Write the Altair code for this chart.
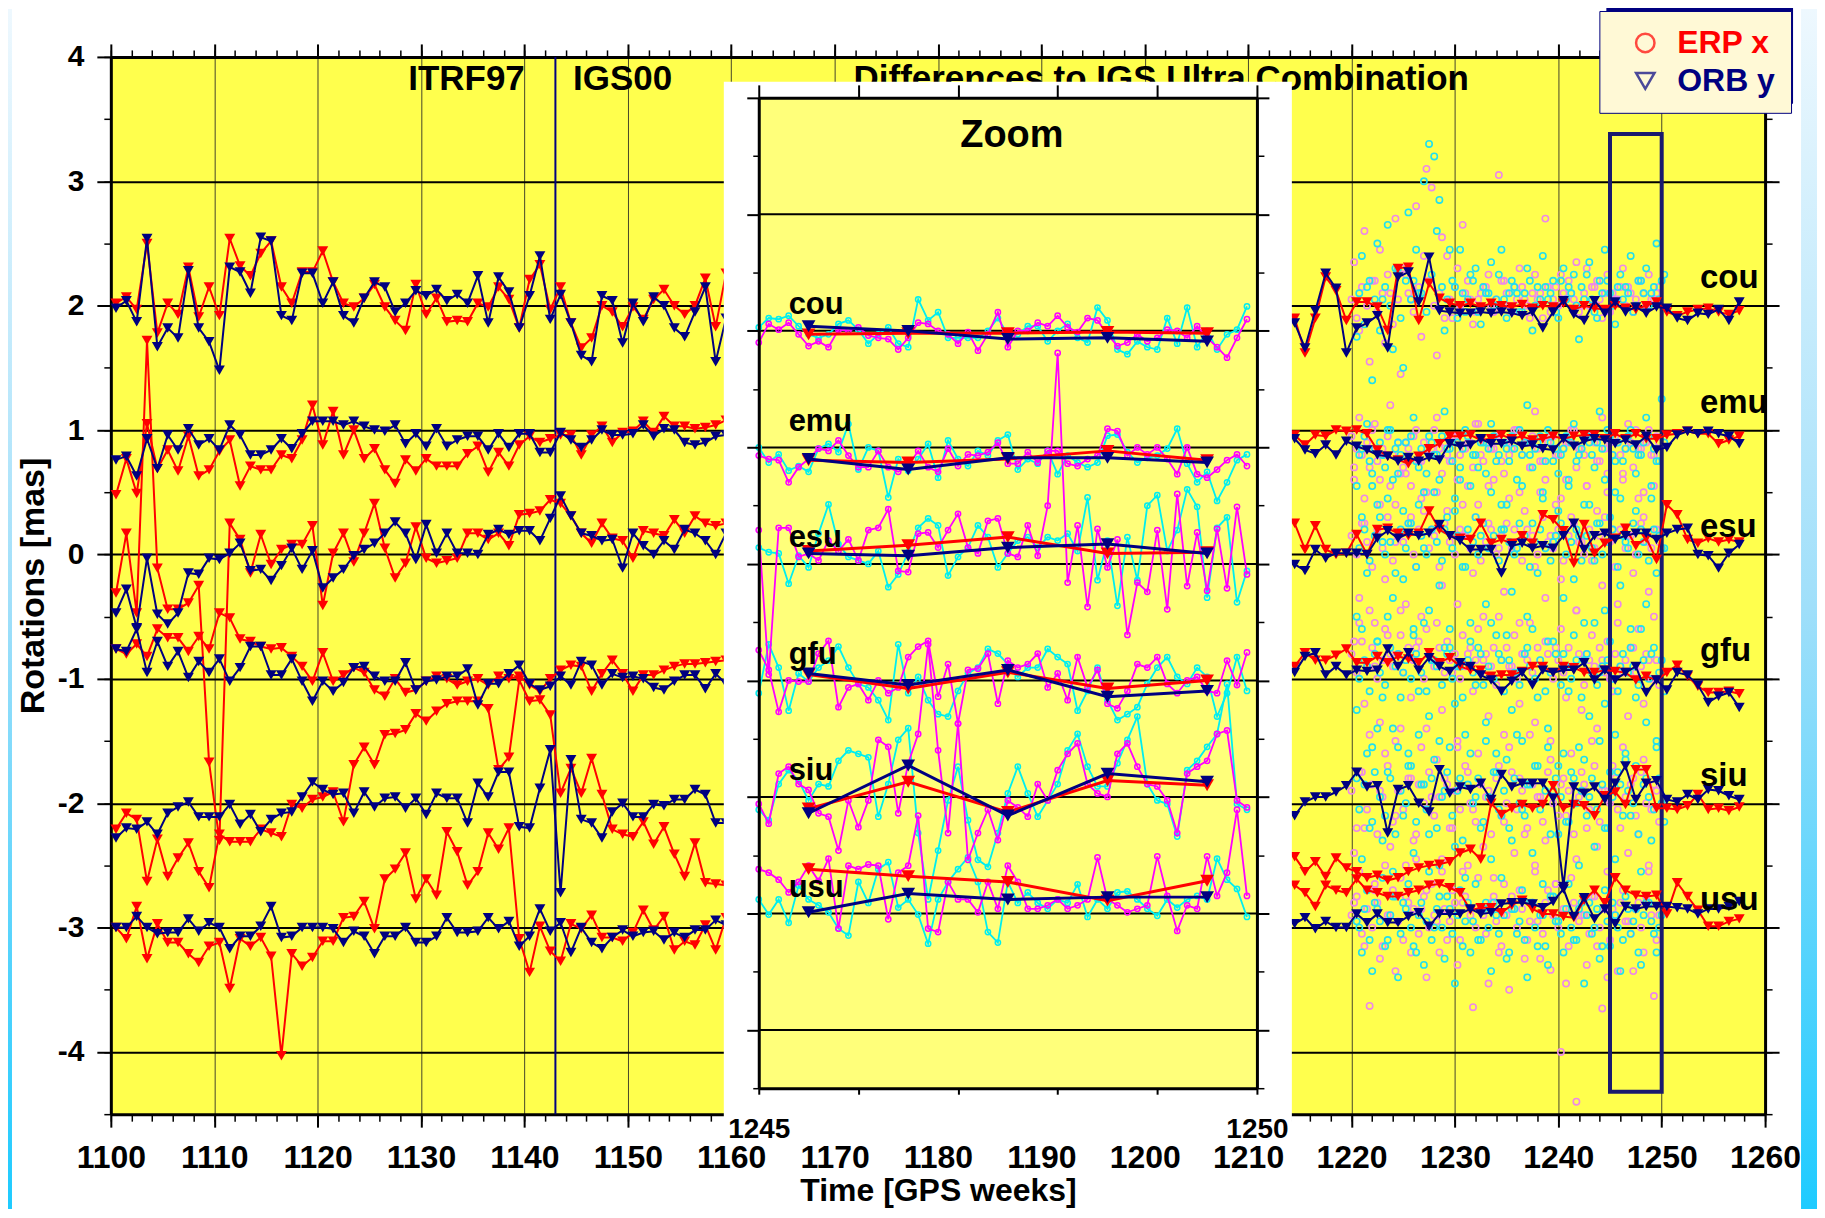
import altair as alt
import pandas as pd

FONT = "Liberation Sans, Arial, Helvetica, sans-serif"
RED = "#ff0000"
NAVY = "#000080"
PINK = "#ee8ae6"
CYAN = "#22e0ee"
MAGENTA = "#ff00ff"
CYAN_IN = "#00eef0"
YELLOW = "#ffff4d"
YELLOW_IN = "#ffff7a"

CENTERS = ["cou", "emu", "esu", "gfu", "siu", "usu"]
BASELINES = [2, 1, 0, -1, -2, -3]

# weekly solutions (mid-week epochs)
WEEKS_LEFT = [1100.5 + i for i in range(60)]
WEEKS_RIGHT = [1214.5 + i for i in range(44)]

# all offsets in 1/100 mas relative to the centre's baseline
RED_LEFT = {
    "cou": [2, 7, -3, 50, -22, 2, -7, 31, -9, 15, -8, 54, 32, 24, 42, 52, 15, 2, 27, 27,
            44, 19, 2, -1, 6, 17, -1, -12, -20, 17, -7, 6, -13, -12, -13, 2, -1, 15, 5, -18,
            21, 33, -3, 15, -14, -34, -26, 0, -5, -17, -1, -11, 5, 13, 0, -7, 0, 22, -17, 26],
    "emu": [-52, -23, -51, 5, -31, -16, -33, -5, -37, -32, -17, -8, -45, -29, -32, -32, -20, -23, -8, 20,
            -12, 15, -20, 0, -23, -15, -32, -43, -24, -33, -23, -29, -29, -29, -19, -13, -34, -18, -29, -12,
            -5, -10, -7, -4, -4, -20, -4, 3, -10, -2, -1, 7, -2, 11, 3, 3, 1, 2, 4, 8],
    "esu": [-31, 17, -47, 172, -11, -44, -44, -39, -25, -167, -230, 25, 12, -15, 16, -8, 4, 8, 8, 23,
            -41, 1, 17, -6, 17, 41, 5, -19, -7, 22, -3, -7, -5, -3, 17, 17, 12, 17, 7, 32,
            33, 35, 44, 41, 31, 17, 9, 25, 13, 11, -3, 19, 17, 15, 28, 17, 31, 25, 23, 25],
    "gfu": [24, 20, 28, 18, 40, 33, 33, 22, 34, 24, 53, 49, 32, 30, 26, 24, 25, 18, 10, -2,
            21, -2, 3, 9, 5, -9, -14, 0, -11, -9, -2, 2, 0, -5, -2, 0, -5, 2, 0, 2,
            -5, -10, 0, 7, 11, 10, -10, 4, 15, 4, -10, 3, 3, 7, 10, 12, 12, 13, 14, 15],
    "siu": [-21, -8, -13, -63, -29, -59, -44, -32, -55, -68, -25, -31, -31, -31, -21, -24, -27, -1, -4, 3,
            5, 9, -15, 31, 45, 31, 55, 56, 59, 72, 66, 74, 80, 82, 82, 82, 76, 27, 37, 99,
            82, 83, 71, 8, 28, 8, 36, 7, -21, -25, -27, -15, -33, -19, -41, -59, -32, -64, -65, -66],
    "usu": [0, -9, 17, -25, 3, -12, -12, -21, -28, -15, -12, -49, -9, -15, -8, -23, -103, -21, -31, -24,
            -11, -11, 8, 9, 21, -1, 39, 47, 60, 23, 39, 26, 77, 61, 34, 45, 76, 63, 80, -9,
            -36, 1, -19, -27, 3, -1, 10, -8, -8, -11, -4, 14, -2, 9, -18, -11, -14, 2, -18, 8],
}
NAVY_LEFT = {
    "cou": [-2, 4, -13, 54, -33, -18, -26, 28, -18, -29, -52, 31, 27, 10, 55, 52, -8, -12, 26, 26,
            2, 19, -8, -14, 6, 19, 15, -5, 2, 12, 8, 13, 4, 9, 2, 24, -14, 23, 11, -18,
            8, 40, -11, 9, -14, -40, -45, 8, 4, -30, 2, -13, 7, 0, -18, -25, -5, 15, -45, -10],
    "emu": [-24, -21, -37, -7, -31, -4, -16, 1, -12, -7, -16, 4, -4, -20, -20, -16, -7, -15, -3, 7,
            7, 7, 4, 7, 3, 0, -1, 4, -11, -3, -13, 1, -13, -8, -5, -5, -16, -3, -14, -3,
            -3, -18, -18, -2, -8, -14, -8, 0, -4, -4, -3, 4, -5, 1, 0, -10, -12, -10, -5, -4],
    "esu": [-47, -28, -59, -3, -48, -56, -47, -15, -16, -3, -4, 1, 9, -13, -12, -21, -9, 5, -12, 3,
            -27, -19, -12, -1, 4, 9, 17, 26, 17, -4, 24, 1, 17, 1, 1, 0, 16, 20, 16, 19,
            19, 11, 29, 47, 31, 17, 15, 11, 12, -11, 17, 7, 0, 11, 4, 20, 17, 11, 0, 17],
    "gfu": [24, 22, 40, 5, 30, 10, 22, 1, 14, 5, 16, -2, 9, 26, 26, 3, 3, 16, -2, -18,
            -2, -10, -3, 9, 10, 2, -2, -2, 13, -9, -2, -1, 2, 2, 8, -21, -4, -4, 4, 11,
            -4, -9, -6, 2, -5, 14, 11, -5, 4, 1, 2, 0, -7, -9, -2, 3, 3, -8, 4, -4],
    "siu": [-28, -20, -21, -15, -25, -8, -3, 1, -11, -11, -11, -1, -17, -9, -23, -13, -8, -7, 5, 17,
            11, 7, 8, -8, 9, -3, 4, 5, -4, 4, -9, 8, 4, 4, -16, 16, 5, 25, 25, -19,
            -20, 12, 43, -72, 35, -13, -16, -28, -7, 0, -11, -11, -1, -2, 3, 3, 11, 7, -16, -16],
    "usu": [0, 0, 9, 0, -5, -4, -4, 7, -3, 4, 0, -17, -7, -7, 1, 17, -8, -7, 0, 0,
            0, -1, -12, -3, -7, -21, -7, -7, 0, -12, -12, -7, 8, -4, -4, -3, 8, -1, 5, -15,
            -7, 15, -3, 4, -20, 0, -12, -17, -8, -2, -7, -4, -3, -10, -4, -8, -2, -2, 6, 2],
}
RED_RIGHT = {
    "cou": [-10, -38, -10, 23, 12, -12, 3, 3, -1, -20, 30, 31, -12, 18, 6, 2, 0, 2, -1, 2,
            0, -1, 1, -2, 0, -1, 2, -3, 0, -2, -3, 0, -2, -3, 0, 3, -5, -8, -5, -3, -2, -5, -7, -4],
    "emu": [-4, -12, -4, -5, 0, -1, 0, -3, -16, -21, -24, -27, -21, -15, -11, -5, -5, -4, -8, -7,
            -4, -7, -5, -8, -7, -5, -7, -5, -4, -4, -7, -3, -7, -3, -7, -7, -4, -3, -1, -3, -3, -11, -8, -5],
    "esu": [25, 4, 23, 4, 0, 1, 16, 0, 20, 21, 17, 15, 17, 35, 20, 15, 13, 12, 25, 9,
            12, 9, 15, 9, 32, 28, 19, -7, 24, 1, 9, 13, 21, 7, 13, -4, 40, 32, 12, 9, 13, 10, 12, 10],
    "gfu": [10, 21, 15, 15, 19, 24, 13, 13, 18, 13, 18, 16, 13, 21, 13, 17, 10, 7, 7, 2,
            3, 3, 6, 10, 10, 5, 10, 9, 5, 5, 7, 6, 5, -1, 2, -1, 5, 11, 2, -6, -11, -11, -10, -12],
    "siu": [-43, -55, -47, -59, -44, -52, -55, -60, -58, -62, -60, -55, -52, -50, -49, -47, -40, -37, -45, 0,
            -9, -4, -1, -4, -1, 14, -4, -1, -2, -10, 6, 9, -1, 27, 27, -4, -4, -5, -2, 7, -5, -4, -6, -3],
    "usu": [34, 28, 17, 34, 30, 28, 39, 30, 28, 25, 25, 28, 30, 34, 35, 32, 28, 14, 16, 16,
            12, 18, 22, 15, 11, 11, 9, 8, 22, 30, 20, 40, 30, 26, 25, 26, 11, 36, 25, 14, 1, 1, 5, 7],
}
NAVY_RIGHT = {
    "cou": [-14, -34, -4, 26, 14, -38, -18, -14, -8, -34, 23, 27, 3, 39, -4, -5, -6, -6, -5, -6,
            -5, -6, -8, -5, -18, -5, 4, -7, -12, 4, -6, 3, -5, -1, -6, -1, -2, -10, -12, -6, -7, -3, -12, 3],
    "emu": [-7, -16, -19, -12, -20, -9, -13, -16, -20, -21, -25, -22, -25, -22, -24, -11, -13, -12, -7, -11,
            -11, -9, -13, -12, -15, -16, -7, -13, -9, -7, -8, -11, -8, -12, -5, -16, -14, -4, -1, -3, -1, -3, -5, -11],
    "esu": [-8, -13, 4, -3, 1, 1, 1, 0, 13, 19, 13, 17, 15, 17, 24, 15, 11, 4, 4, 4,
            -15, 7, 9, 5, 7, 5, 15, 25, 4, 15, 17, 12, 15, 17, 17, 12, 17, 20, 21, 0, -1, -11, 1, 8],
    "gfu": [5, 18, 21, 3, 10, 3, 7, 6, 7, 24, 10, 21, 7, 17, 10, 6, 13, 10, 3, -1,
            -10, -2, 5, -5, 7, 5, 7, 7, 13, -1, 7, -1, 5, 10, -11, -1, -9, 5, 3, -5, -19, -14, -11, -23],
    "siu": [-10, 1, 5, 5, 9, 14, 25, 13, 14, -24, 11, 14, 0, -7, 27, 8, 13, 11, 16, 3,
            23, 13, 16, 16, 16, 4, -67, 13, 8, 13, 3, 16, 30, 3, 16, 18, 3, 1, 7, 3, 11, 10, 6, 3],
    "usu": [3, 8, -1, 5, 0, 0, 11, 4, 11, 4, 4, 9, 12, 1, 11, 11, 11, 15, 11, 12,
            19, 20, 20, 19, 16, 21, 31, 9, 24, 7, 15, 3, 17, 15, 17, 17, 17, 16, 15, 11, 15, 15, 17, 21],
}

# sub-weekly ERP solutions, weeks 1220-1250 (two sampling offsets per colour)
SCATTER_X_PINK = [1220.25 + 0.5 * k for k in range(60)]
SCATTER_X_CYAN = [1220.5 + 0.5 * k for k in range(60)]
SCATTER_X_PINK2 = [1220.0 + 0.5 * k for k in range(60)]
SCATTER_X_CYAN2 = [1220.75 + 0.5 * k for k in range(60)]
SCATTER_PINK = {
    "cou": [35, -20, 60, -45, 20, 45, -30, 10, 70, -55, 25, 5, 80, -25, 110, 95, -40, 55, 40, -10,
            30, 65, 20, -15, 5, 15, 25, -5, 105, 20, 0, 15, 30, 5, -10, 25, 10, 70, -5, 15,
            25, 5, 10, 35, 0, 30, 15, 20, -10, 25, 10, 5, 30, 15, -5, 20, 10, 25, 5, 15],
    "emu": [-30, 10, -55, -15, 5, -40, -20, 20, -60, -35, -10, -45, 0, -25, -50, -15, 10, -35, -20, -5,
            -40, -60, -10, -30, 5, -25, -45, -15, -5, -35, -20, 0, -50, -10, -30, 15, -25, -40, -5, -20,
            -55, -10, 0, -30, -15, -45, -5, -25, 10, -35, -20, -10, -40, 5, -30, -15, -50, 0, -20, -10],
    "esu": [60, -35, 25, 70, -55, 40, -20, 55, 10, -45, 65, 30, -10, 45, -60, 20, 50, -25, 35, 75,
            -40, 15, 55, -15, 40, -50, 25, 60, 5, -30, 45, 20, -55, 35, 70, -10, 50, -35, 15, 40,
            -20, 60, 30, -45, 10, 55, -5, 35, -25, 50, 20, -40, 65, 15, -15, 45, 30, -30, 55, 10],
    "gfu": [30, 45, -20, 55, 10, -35, 40, 20, -50, 35, 60, -15, 25, 50, -40, 15, 45, -25, 30, 5,
            -55, 35, 20, -10, 40, 15, -30, 25, 50, -45, 10, 35, -20, 20, 45, -35, 15, 30, -50, 25,
            40, -15, 10, 55, -25, 20, 35, -40, 15, 30, -10, 45, 5, -30, 25, 40, -20, 15, 50, -5],
    "siu": [-40, 25, -20, 55, -65, 10, 40, -35, -10, 60, -50, 20, -25, 45, -70, 5, 35, -45, 15, -20,
            50, -55, 25, -5, 40, -35, 10, -60, 30, -15, 45, -40, 20, -25, 55, -50, 5, -30, 35, -65,
            15, -10, 40, -45, 25, -20, 50, -35, 10, -55, 30, -5, 45, -40, 20, -25, 35, -50, 15, -15],
    "usu": [20, 45, -15, -63, 30, -25, 50, 10, -35, 40, 25, -20, 55, 15, -40, 35, 5, 45, -10, 30,
            -30, 20, 50, -64, 40, 10, -45, 25, -20, 35, -50, 15, 30, -25, 5, 45, -25, 20, -34, 35,
            -100, -45, 40, -140, 10, -30, 25, -15, -65, -40, 15, -35, 30, 5, -35, 20, -20, 45, -55, 10],
}
SCATTER_CYAN = {
    "cou": [-25, 40, 15, -60, 50, 5, 65, -35, 30, -50, 75, 20, 10, 100, 130, 120, 85, -20, 45, 15,
            45, -5, 25, 30, -15, 10, 35, 5, 45, -10, 20, 10, -5, 30, -20, 15, 40, 5, 20, -10,
            30, 15, 25, -27, 5, 35, -5, 20, 45, 10, -15, 25, 15, 40, 0, 20, 30, 10, 50, 20],
    "emu": [-45, -15, 5, -35, -60, -20, 0, -40, -10, -65, -25, 10, -30, -50, -5, -20, -40, 15, -15, -55,
            -30, 0, -45, -20, -10, -35, 5, -25, -60, -15, -5, -40, -20, 20, -30, -10, -50, 0, -25, -35,
            -15, -45, 5, -20, -60, -10, -30, 15, -40, -5, -25, -55, -15, 0, -35, -20, 10, -45, -25, 25],
    "esu": [-50, 30, -15, 55, -70, 10, 45, -35, 65, -20, 25, -60, 40, 5, -45, 50, -25, 20, -75, 35,
            60, -10, -55, 30, 15, -40, 50, -65, 20, 40, -30, 5, 55, -50, 25, -15, 45, -70, 10, 35,
            -35, 60, -20, 15, -55, 40, -5, 25, -45, 30, 50, -25, 10, -60, 35, 20, -40, 45, -15, 5],
    "gfu": [-25, 40, 10, -55, 30, -15, 50, -40, 20, 5, -60, 35, -10, 45, -30, 15, -50, 25, 40, -20,
            10, -45, 30, -5, 20, -35, 45, -60, 15, 35, -25, 5, -50, 25, 40, -15, 10, -40, 30, -70,
            20, -10, 35, -55, 15, -30, 45, 5, -20, 30, -45, 10, -65, 25, -15, 40, -35, 20, -50, 15],
    "siu": [20, -45, 40, -15, 60, -30, 25, -55, 45, -10, 30, -40, 55, 15, -25, 35, -50, 10, 45, -35,
            20, -60, 40, 5, -20, 50, -45, 25, -10, 35, -30, 55, -5, 15, -40, 30, -65, 45, 10, -25,
            40, -15, 20, -50, 35, 5, -35, 50, -20, 25, -45, 15, 40, -10, 30, -55, 20, -30, 45, 0],
    "usu": [5, -20, 30, -35, 15, 40, -10, 25, -40, 20, 35, -15, 10, -30, 45, 0, 25, -25, 15, -45,
            30, 5, -20, 35, -10, 20, -35, 10, 40, -25, 15, -5, 30, -40, 20, -15, 10, -30, 25, 5,
            -20, 35, -10, 15, -45, 20, 0, -25, 30, -15, 10, -35, 25, -5, 15, -30, 20, 5, -20, 10],
}
SCATTER_PINK2 = {
    "cou": [5, -10, 15, 0, 20, -5, 10, 25, -15, 5, 30, 10, -5, 15, 40, 20, 0, 10, -10, 5,
            15, 0, 10, 5, -5, 10, 15, 0, 5, 20, 10, -5, 5, 15, 0, 10, 5, -10, 15, 5,
            0, 10, 20, 5, -5, 10, 0, 15, 5, 10, -5, 5, 15, 0, 10, 5, 20, 0, 5, 10],
    "emu": [-5, -15, -20, -10, 0, -25, -15, -5, -20, -10, -30, -15, -5, -25, -10, -20, 0, -15, -10, -25,
            -5, -20, -15, -10, 5, -20, -10, -15, -5, -25, -10, -15, 0, -20, -10, -5, -15, -25, -10, -5,
            -20, -15, -10, 0, -15, -20, -5, -10, -25, -15, -10, -5, -20, -15, -10, 0, -15, -10, -20, -5],
    "esu": [15, 0, 25, 10, -10, 20, 5, 30, -5, 15, 10, 25, 0, 20, 35, 5, 15, -10, 25, 10,
            0, 20, 15, 5, 30, -5, 10, 20, 0, 15, 25, 5, 10, -5, 20, 15, 0, 30, 10, 5,
            20, -5, 15, 25, 10, 0, 20, 5, 15, 30, 10, -10, 20, 5, 15, 0, 25, 10, 5, 20],
    "gfu": [20, 5, 30, 10, 25, 0, 15, 35, 10, 20, 5, 25, 15, 30, 0, 20, 10, 25, 5, 15,
            20, 0, 10, 25, 15, 5, 20, 10, -5, 15, 25, 10, 0, 20, 15, 5, 25, 10, 20, 0,
            15, 5, 25, 10, 20, -5, 15, 10, 25, 5, 0, 20, 10, 15, 25, 5, 10, 20, 0, 15],
    "siu": [10, -20, 25, -5, 15, -25, 5, 30, -15, 10, -5, 20, -30, 15, 0, 25, -10, 5, 20, -20,
            10, -5, 30, 0, -15, 15, 5, -25, 20, -10, 0, 25, -5, 10, -20, 15, 5, -15, 25, 0,
            -10, 20, 10, -25, 5, 15, -5, 30, -15, 10, 0, 20, -20, 5, 15, -10, 25, 0, -5, 10],
    "usu": [10, 25, -5, 15, 0, 20, -15, 10, 30, 5, -10, 20, 15, -5, 25, 0, 10, -20, 15, 5,
            20, -10, 25, 10, 0, 15, -5, 20, 5, -15, 10, 25, 0, 15, -10, 20, 5, -5, 30, 10,
            0, 15, -15, 20, 5, 10, -5, 25, 0, 15, -10, 10, 20, 5, -5, 15, 0, 25, 10, -10],
}
SCATTER_CYAN2 = {
    "cou": [10, -15, 20, 5, -20, 15, 0, 30, -10, 20, 5, 45, 10, -5, 25, 60, 15, 5, 20, -10,
            10, 5, 20, -5, 15, 10, 0, 25, 5, 10, 15, -5, 10, 20, 0, 5, 15, 10, -5, 20,
            5, 10, 0, 15, 25, 5, -10, 10, 20, 0, 15, 5, 10, -5, 20, 10, 0, 15, 5, 25],
    "emu": [-20, -5, -25, -15, -10, -30, 0, -15, -20, -10, -5, -25, -15, -35, -10, -20, -5, -15, -25, -10,
            -15, -5, -20, -30, -10, -15, -5, -20, -10, -25, -15, 0, -10, -20, -15, -5, -25, -10, -15, -20,
            -5, -10, -25, -15, -5, -20, -10, -15, 0, -20, -10, -25, -5, -15, -20, -10, -5, -15, -25, -10],
    "esu": [5, 20, -5, 15, 30, 0, 10, -15, 20, 5, 25, -10, 15, 0, 20, 10, -5, 30, 5, 15,
            -10, 20, 10, 0, 25, 5, 15, -5, 20, 10, 0, 25, 15, -10, 10, 20, 5, -5, 15, 25,
            0, 10, 20, -5, 15, 5, 25, 0, 10, 20, -10, 15, 5, 25, 0, 10, -5, 20, 15, 5],
    "gfu": [0, 15, -10, 20, 5, -5, 25, 10, -15, 15, 0, 20, 5, -10, 15, 10, -5, 20, 0, 10,
            -15, 15, 5, 25, -5, 10, 0, 20, -10, 15, 5, -5, 20, 10, 0, 15, -10, 5, 20, -5,
            10, 0, 15, -15, 20, 5, -5, 10, 15, 0, -10, 20, 5, 10, -5, 15, 0, 25, 5, -10],
    "siu": [-5, 15, -20, 25, 5, -10, 20, -25, 10, 0, 30, -15, 15, -5, 20, -20, 5, 25, -10, 10,
            -30, 15, 0, 20, -15, 5, 25, -5, 10, -20, 20, 0, -10, 15, 30, -5, 10, -25, 20, 5,
            -15, 25, 0, 10, -10, 20, -5, 15, -20, 5, 25, -10, 10, 0, -25, 15, 5, -5, 20, -15],
    "usu": [0, 15, -10, 20, 5, -15, 10, 25, -5, 15, 0, -20, 20, 5, -10, 15, 0, 25, -5, 10,
            -15, 20, 5, -10, 15, 0, 20, -5, 10, -20, 15, 5, -10, 20, 0, 10, -15, 25, 5, -5,
            15, 0, -10, 20, 10, -5, 15, -15, 5, 20, 0, -10, 15, 5, -20, 10, 20, -5, 0, 15],
}

# zoom inset: weeks 1245-1250
INSET_X = [round(1245.0 + 0.1 * k, 2) for k in range(50)]
INSET_CYAN = {
    "cou": [3, 11, 10, 13, 4, -3, -6, -3, 6, 9, 1, -11, -3, 3, -11, -14, 27, 9, 16, -6,
            -6, -6, -6, 0, 11, -3, -3, 4, 4, -9, 0, 6, -6, -10, 20, 9, -16, -20, -9, -14,
            -16, 11, -11, 20, -14, 0, -16, -3, 1, 21],
    "emu": [0, -13, -6, -20, -16, -21, -1, 3, -4, 20, -19, 0, -3, -43, -10, -20, -10, 3, -26, 6,
            -10, -16, -3, -7, 6, 11, -19, -10, -14, -3, -23, -7, -13, -17, -13, 10, 11, -4, -13, -9,
            -7, -1, 16, -14, -30, -21, -46, -30, -11, -6],
    "esu": [14, 10, 9, -17, 7, -3, 26, 51, 17, 6, 3, 0, 11, -20, -9, 10, 31, 39, 33, -10,
            6, 14, 33, 23, -3, 9, 20, 23, 14, 23, 20, 26, 11, 57, -14, 20, -36, 23, -14, 50,
            59, 11, 29, 64, 49, -29, 31, 40, -33, -6],
    "gfu": [-11, 31, 11, -26, 6, -1, 11, 17, 29, 11, -3, -6, -17, -34, 31, -11, 3, -17, -29, -31,
            -9, 6, 11, 27, 23, 14, 3, 11, 11, 27, 20, 14, -26, -9, 11, -17, -34, -29, -23, -3,
            11, 20, 3, -3, 11, 3, -31, -11, 20, -9],
    "siu": [-11, -20, 11, 23, 14, -3, 11, 9, 31, 40, 37, 34, -17, 11, 49, 59, -31, -88, -46, -3,
            26, -20, -54, -60, -31, 3, 26, 3, -17, -3, 11, 40, 54, 26, 9, 9, 29, 49, 69, 11,
            -3, -6, -34, 23, 31, 43, 54, 97, -6, -11],
    "usu": [12, -1, 12, -8, 24, 12, 7, 1, -13, -19, 27, 9, 38, 44, 5, 12, -1, -26, 12, 27,
            38, 48, 27, -16, -25, 27, 9, 18, 9, 4, 12, 9, 25, -3, 12, 4, 18, 19, 12, 4,
            -2, 12, 5, 12, 15, 12, 47, 29, 21, -3],
}
INSET_MAGENTA = {
    "cou": [-10, 6, 1, 7, -3, -13, -9, -14, 1, 0, 3, -4, -6, -7, -16, -6, 7, 6, 0, -3,
            -11, -1, -17, -3, 16, -14, 0, 0, 7, 4, 13, 3, -1, 11, 9, -3, -13, -10, -3, -9,
            -6, 1, 0, -6, 4, -6, -14, -23, -6, 10],
    "emu": [-7, -10, -11, -30, -17, -10, -1, -3, 6, -7, -17, -17, -3, -17, -21, -16, -3, -17, -21, -1,
            -16, -6, -7, -4, 4, -14, -14, -4, -13, -3, -3, -14, -16, -10, -7, 16, 14, -7, 0, -6,
            0, -10, -23, 0, -23, -26, -19, -11, -6, -16],
    "esu": [29, -95, 31, 31, 6, 9, 3, 20, 11, 21, 3, 29, 31, 47, -6, -7, 26, 27, 14, 29,
            43, 14, 9, 37, 39, 9, 6, 33, 7, 50, 181, -16, 33, -37, 30, -3, 21, -61, -16, -24,
            29, -39, 60, -19, 27, -23, 30, -21, 49, -9],
    "gfu": [26, 9, -27, 0, -1, -1, 23, 34, -23, -6, -3, -17, 0, -11, -6, 20, 29, 34, -14, 14,
            -37, 9, 10, 23, -20, 17, 11, 14, 23, -6, 6, -17, 20, -6, 9, -20, -24, -9, 14, 11,
            20, -3, -11, 0, 3, -9, -11, 17, -4, 24],
    "siu": [-6, -23, 20, 26, 11, 6, -14, -17, -46, -3, -26, -3, 49, 43, -14, 29, 54, 131, 40, -31,
            63, -54, -31, -11, -37, -3, -9, -17, 11, -3, 23, 37, 46, 11, 3, 0, 37, 46, 26, 11,
            9, -3, -31, 20, 26, 31, 54, 57, -3, -9],
    "usu": [38, 35, 29, 18, 27, 41, 28, 47, -13, 41, 38, 42, 41, -5, 35, 41, 84, -13, -16, 27,
            12, 12, 1, 27, 4, 41, 27, 4, 4, 7, 12, 4, 7, 12, 48, 12, 7, 1, 4, 7,
            49, 15, -15, 7, 4, 49, 15, 35, 89, 15],
}
INSET_WEEKS = [1245.5, 1246.5, 1247.5, 1248.5, 1249.5]
INSET_RED = {"cou": [-3, -2, -2, -1, -2], "emu": [-11, -13, -10, -3, -11], "esu": [11, 16, 23, 9, 10],
             "gfu": [5, -7, 7, -7, 0], "siu": [-10, 13, -13, 14, 10], "usu": [38, 32, 27, 11, 28]}
INSET_NAVY = {"cou": [4, 0, -7, -6, -9], "emu": [-10, -19, -9, -9, -13], "esu": [9, 7, 14, 17, 9],
              "gfu": [6, -4, 9, -14, -9], "siu": [-14, 27, -16, 20, 13], "usu": [1, 17, 12, 14, 14]}

MAJOR_X = list(range(1100, 1261, 10))
MINOR_X = list(range(1100, 1261, 2))
MAJOR_Y = list(range(-4, 5))
MINOR_Y = [-4.5 + 0.5 * k for k in range(18)]
INSET_TICKS_X = [1245, 1246, 1247, 1248, 1249, 1250]
INSET_MINOR_Y = [-4.5 + k for k in range(9)]


def build(parts):
    rows = []
    for c, base in zip(CENTERS, BASELINES):
        for seg, xs, table in parts:
            for x, o in zip(xs, table[c]):
                rows.append({"week": x, "value": base + o / 100.0, "grp": c + seg})
    return pd.DataFrame(rows)


red_df = build([("L", WEEKS_LEFT, RED_LEFT), ("R", WEEKS_RIGHT, RED_RIGHT)])
navy_df = build([("L", WEEKS_LEFT, NAVY_LEFT), ("R", WEEKS_RIGHT, NAVY_RIGHT)])
pink_df = build([("a", SCATTER_X_PINK, SCATTER_PINK), ("b", SCATTER_X_PINK2, SCATTER_PINK2)])
cyan_df = build([("a", SCATTER_X_CYAN, SCATTER_CYAN), ("b", SCATTER_X_CYAN2, SCATTER_CYAN2)])
icyan_df = build([("", INSET_X, INSET_CYAN)])
imag_df = build([("", INSET_X, INSET_MAGENTA)])
ired_df = build([("", INSET_WEEKS, INSET_RED)])
inavy_df = build([("", INSET_WEEKS, INSET_NAVY)])

XS = alt.Scale(domain=[1100, 1260], nice=False, zero=False)
YS = alt.Scale(domain=[-4.5, 4], nice=False, zero=False)
XI = alt.Scale(domain=[1245, 1250], range=[649, 1148], nice=False, zero=False)
YI = alt.Scale(domain=[-4.5, 4], range=[1033, 41], nice=False, zero=False)


def mx(f="week"):
    return alt.X(f"{f}:Q", scale=XS, axis=None)


def my(f="value"):
    return alt.Y(f"{f}:Q", scale=YS, axis=None)


def ix(f="week"):
    return alt.X(f"{f}:Q", scale=XI, axis=None)


def iy(f="value"):
    return alt.Y(f"{f}:Q", scale=YI, axis=None)


one = pd.DataFrame({"a": [0]})
grad = alt.Gradient(
    gradient="linear",
    stops=[alt.GradientStop(color="#eef8fe", offset=0),
           alt.GradientStop(color="#9fdffa", offset=0.5),
           alt.GradientStop(color="#1ecbff", offset=1)],
    x1=0, x2=0, y1=0, y2=1,
)
strip_l = alt.Chart(one).mark_rect(color=grad).encode(
    x=alt.value(-103), x2=alt.value(-99), y=alt.value(-48), y2=alt.value(1154))
strip_r = alt.Chart(one).mark_rect(color=grad).encode(
    x=alt.value(1693), x2=alt.value(1712), y=alt.value(-48), y2=alt.value(1154))

rule1143 = alt.Chart(pd.DataFrame({"week": [1143], "lo": [-4.5], "hi": [4.0]})).mark_rule(
    color=NAVY, strokeWidth=2).encode(x=mx(), y=my("lo"), y2="hi:Q")

pink_pts = alt.Chart(pink_df).mark_point(filled=False, color=PINK, size=40, strokeWidth=1.6, opacity=1).encode(
    x=mx(), y=my())
cyan_pts = alt.Chart(cyan_df).mark_point(filled=False, color=CYAN, size=40, strokeWidth=1.6, opacity=1).encode(
    x=mx(), y=my())

zoom_box = alt.Chart(pd.DataFrame({"w0": [1245], "w1": [1250], "v0": [-4.32], "v1": [3.38]})).mark_rect(
    filled=False, color="#1a1a6e", strokeWidth=4).encode(x=mx("w0"), x2="w1:Q", y=my("v0"), y2="v1:Q")


def weekly(df, color, xf, yf, lw, size):
    line = alt.Chart(df).mark_line(color=color, strokeWidth=lw).encode(x=xf(), y=yf(), detail="grp:N")
    pts = alt.Chart(df).mark_point(shape="triangle-down", filled=True, color=color, size=size, opacity=1).encode(
        x=xf(), y=yf())
    return [line, pts]


top_txt = alt.Chart(pd.DataFrame({
    "week": [1134.4, 1149.5, 1201.6],
    "value": [3.82, 3.82, 3.82],
    "label": ["ITRF97", "IGS00", "Differences to IGS Ultra Combination"],
})).mark_text(font=FONT, fontSize=35, fontWeight="bold", color="black", align="center", baseline="middle").encode(
    x=mx(), y=my(), text="label:N")

right_lbl = alt.Chart(pd.DataFrame({
    "week": [1253.7] * 6,
    "value": [b + 0.22 for b in BASELINES],
    "label": CENTERS,
})).mark_text(font=FONT, fontSize=33, fontWeight="bold", color="black", align="left", baseline="middle").encode(
    x=mx(), y=my(), text="label:N")

shadow = alt.Chart(one).mark_rect(color=NAVY).encode(
    x=alt.value(1498), x2=alt.value(1685), y=alt.value(-52), y2=alt.value(47))

LEG = dict(
    orient="none", legendX=1491, legendY=-46, title=None,
    fillColor="#fff9d6", strokeColor=NAVY, padding=16, cornerRadius=0,
    symbolSize=340, symbolStrokeWidth=2.5, symbolOffset=14,
    labelFont=FONT, labelFontSize=32, labelFontWeight="bold",
    labelColor={"expr": "datum.label == 'ERP x' ? '#ff0000' : '#000080'"},
    labelOffset=16, rowPadding=6, zindex=1,
)
leg_src = alt.Chart(pd.DataFrame({"week": [1252.0, 1252.0], "value": [3.8, 3.8],
                                  "kind": ["ERP x", "ORB y"]})).mark_point(
    filled=False, strokeWidth=2.5, size=200).encode(
    x=mx(), y=my(),
    color=alt.Color("kind:N", scale=alt.Scale(domain=["ERP x", "ORB y"], range=[RED, NAVY]),
                    legend=alt.Legend(**LEG)),
    shape=alt.Shape("kind:N", scale=alt.Scale(domain=["ERP x", "ORB y"], range=["circle", "triangle-down"]),
                    legend=alt.Legend(**LEG)),
)

# ---- main axes ----
ax_df = pd.DataFrame({"week": [1100.0, 1260.0], "value": [-4.5, 4.0]})
LAB = dict(labelFont=FONT, labelFontWeight="bold", labelColor="black", tickColor="black", domainColor="black")

main_ax1 = alt.Chart(ax_df).mark_point(opacity=0).encode(
    x=alt.X("week:Q", scale=XS, axis=alt.Axis(
        orient="bottom", values=MAJOR_X, format="d", tickSize=13, tickWidth=2, domainWidth=3,
        labelFontSize=32, labelPadding=15, labelFlush=False, labelOverlap=False, labelBound=False,
        grid=True, gridColor="#45452a", gridWidth=1,
        title="Time [GPS weeks]", titleFont=FONT, titleFontSize=32, titleFontWeight="bold",
        titleColor="black", titlePadding=2, **LAB)),
    y=alt.Y("value:Q", scale=YS, axis=alt.Axis(
        orient="left", values=MAJOR_Y, labelExpr="toString(datum.value)", tickSize=14, tickWidth=2,
        domainWidth=3, labelFontSize=30, labelPadding=13, labelOverlap=False,
        grid=True, gridColor="black", gridWidth=2,
        title="Rotations [mas]", titleFont=FONT, titleFontSize=34, titleFontWeight="bold",
        titleColor="black", titlePadding=7, **LAB)),
)
main_ax2 = alt.Chart(ax_df).mark_point(opacity=0).encode(
    x=alt.X("week:Q", scale=XS, axis=alt.Axis(
        orient="top", values=MAJOR_X, tickSize=13, tickWidth=2, domainWidth=3, labels=False,
        grid=False, title=None, tickColor="black", domainColor="black")),
    y=alt.Y("value:Q", scale=YS, axis=alt.Axis(
        orient="right", values=MAJOR_Y, tickSize=14, tickWidth=2, domainWidth=3, labels=False,
        grid=False, title=None, tickColor="black", domainColor="black")),
)
main_ax3 = alt.Chart(ax_df).mark_point(opacity=0).encode(
    x=alt.X("week:Q", scale=XS, axis=alt.Axis(
        orient="bottom", values=MINOR_X, tickSize=7, tickWidth=1.5, domain=False, labels=False,
        grid=False, title=None, tickColor="black")),
    y=alt.Y("value:Q", scale=YS, axis=alt.Axis(
        orient="left", values=MINOR_Y, tickSize=7, tickWidth=1.5, domain=False, labels=False,
        grid=False, title=None, tickColor="black")),
)
main_ax4 = alt.Chart(ax_df).mark_point(opacity=0).encode(
    x=alt.X("week:Q", scale=XS, axis=alt.Axis(
        orient="top", values=MINOR_X, tickSize=7, tickWidth=1.5, domain=False, labels=False,
        grid=False, title=None, tickColor="black")),
    y=alt.Y("value:Q", scale=YS, axis=alt.Axis(
        orient="right", values=MINOR_Y, tickSize=7, tickWidth=1.5, domain=False, labels=False,
        grid=False, title=None, tickColor="black")),
)

main_layers = [strip_l, strip_r, rule1143, pink_pts, cyan_pts, zoom_box]
main_layers += weekly(red_df, RED, mx, my, 2, 120)
main_layers += weekly(navy_df, NAVY, mx, my, 2, 120)
main_layers += [top_txt, right_lbl, shadow, leg_src, main_ax1, main_ax2, main_ax3, main_ax4]
main = alt.layer(*main_layers).resolve_axis(x="independent", y="independent")

# ---- inset ----
white = alt.Chart(one).mark_rect(color="white").encode(
    x=alt.value(614), x2=alt.value(1183), y=alt.value(25), y2=alt.value(1080))
inset_bg = alt.Chart(pd.DataFrame({"w0": [1245], "w1": [1250], "v0": [-4.5], "v1": [4.0]})).mark_rect(
    color=YELLOW_IN).encode(x=ix("w0"), x2="w1:Q", y=iy("v0"), y2="v1:Q")
inset_grid = alt.Chart(pd.DataFrame({"w0": [1245] * 8, "w1": [1250] * 8, "v": list(range(-4, 4))})).mark_rule(
    color="black", strokeWidth=2).encode(x=ix("w0"), x2="w1:Q", y=iy("v"))


def dense(df, color):
    line = alt.Chart(df).mark_line(color=color, strokeWidth=1.8).encode(x=ix(), y=iy(), detail="grp:N")
    pts = alt.Chart(df).mark_point(filled=False, color=color, size=28, strokeWidth=1.5, opacity=1).encode(
        x=ix(), y=iy())
    return [line, pts]


inset_lbl = alt.Chart(pd.DataFrame({
    "week": [1245.3] * 6,
    "value": [b + 0.22 for b in BASELINES],
    "label": CENTERS,
})).mark_text(font=FONT, fontSize=31, fontWeight="bold", color="black", align="left", baseline="middle").encode(
    x=ix(), y=iy(), text="label:N")
zoom_txt = alt.Chart(pd.DataFrame({"week": [1247.54], "value": [3.67], "label": ["Zoom"]})).mark_text(
    font=FONT, fontSize=38, fontWeight="bold", color="black", align="center", baseline="middle").encode(
    x=ix(), y=iy(), text="label:N")

iax_df = pd.DataFrame({"week": [1245.0, 1250.0], "value": [-4.5, 4.0]})
ins_ax1 = alt.Chart(iax_df).mark_point(opacity=0).encode(
    x=alt.X("week:Q", scale=XI, axis=alt.Axis(
        orient="bottom", offset=-26, values=INSET_TICKS_X, tickSize=6, tickWidth=2, domainWidth=3,
        labelExpr="datum.value == 1245 || datum.value == 1250 ? toString(datum.value) : ''",
        labelFontSize=28, labelPadding=21, labelFlush=False, labelOverlap=False, labelBound=False,
        grid=False, title=None, zindex=1, **LAB)),
    y=alt.Y("value:Q", scale=YI, axis=alt.Axis(
        orient="left", offset=-649, values=MAJOR_Y, tickSize=12, tickWidth=2, domainWidth=3,
        labels=False, grid=False, title=None, zindex=1, tickColor="black", domainColor="black")),
)
ins_ax2 = alt.Chart(iax_df).mark_point(opacity=0).encode(
    x=alt.X("week:Q", scale=XI, axis=alt.Axis(
        orient="top", offset=-41, values=INSET_TICKS_X, tickSize=13, tickWidth=2, domainWidth=3,
        labels=False, grid=False, title=None, zindex=1, tickColor="black", domainColor="black")),
    y=alt.Y("value:Q", scale=YI, axis=alt.Axis(
        orient="right", offset=-509, values=MAJOR_Y, tickSize=12, tickWidth=2, domainWidth=3,
        labels=False, grid=False, title=None, zindex=1, tickColor="black", domainColor="black")),
)
ins_ax3 = alt.Chart(iax_df).mark_point(opacity=0).encode(
    x=ix(),
    y=alt.Y("value:Q", scale=YI, axis=alt.Axis(
        orient="left", offset=-649, values=INSET_MINOR_Y, tickSize=6, tickWidth=1.5, domain=False,
        labels=False, grid=False, title=None, zindex=1, tickColor="black")),
)
ins_ax4 = alt.Chart(iax_df).mark_point(opacity=0).encode(
    x=ix(),
    y=alt.Y("value:Q", scale=YI, axis=alt.Axis(
        orient="right", offset=-509, values=INSET_MINOR_Y, tickSize=7, tickWidth=1.5, domain=False,
        labels=False, grid=False, title=None, zindex=1, tickColor="black")),
)

inset_layers = [white, inset_bg, inset_grid]
inset_layers += dense(icyan_df, CYAN_IN)
inset_layers += dense(imag_df, MAGENTA)
inset_layers += weekly(ired_df, RED, ix, iy, 3, 190)
inset_layers += weekly(inavy_df, NAVY, ix, iy, 3, 190)
inset_layers += [inset_lbl, zoom_txt, ins_ax1, ins_ax2, ins_ax3, ins_ax4]
inset = alt.layer(*inset_layers).resolve_axis(x="independent", y="independent")

chart = alt.layer(main, inset).resolve_scale(x="independent", y="independent").properties(
    width=1657, height=1059,
    padding={"left": 103, "top": 48, "right": 52, "bottom": 95},
    autosize=alt.AutoSizeParams(type="none"),
).configure_view(fill=YELLOW, stroke="transparent")

chart.save("out.html", embed_options={"renderer": "svg", "actions": False})
